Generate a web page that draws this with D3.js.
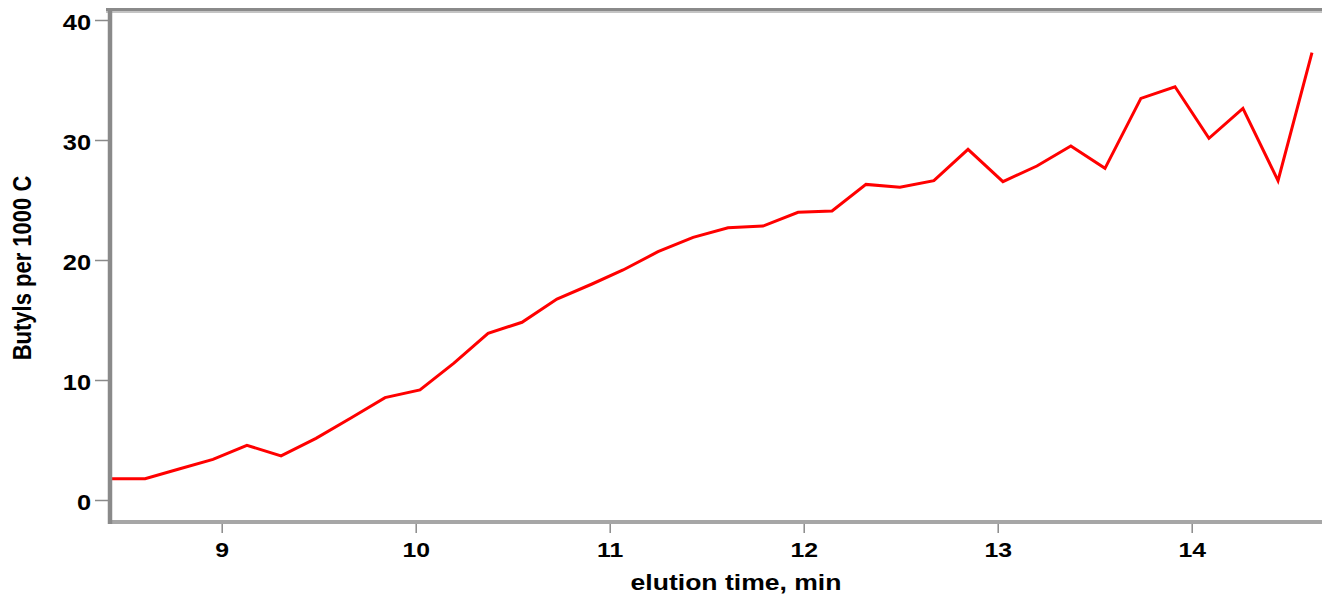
<!DOCTYPE html>
<html>
<head>
<meta charset="utf-8">
<script src="https://cdn.jsdelivr.net/npm/d3@7"></script>
<style>
  html, body { margin: 0; padding: 0; background: #fff; }
  svg { display: block; }
  text { font-family: "Liberation Sans", Arial, sans-serif; font-weight: bold; fill: #000; }
</style>
</head>
<body>
<svg id="chart" width="1322" height="596"></svg>
<script>
// Data
const elutionTime = [8.424, 8.605, 8.780, 8.955, 9.130, 9.306, 9.486, 9.666, 9.842, 10.022,
  10.197, 10.373, 10.548, 10.728, 10.909, 11.069, 11.249, 11.430, 11.610, 11.790,
  11.971, 12.146, 12.321, 12.496, 12.671, 12.847, 13.027, 13.202, 13.377, 13.553,
  13.738, 13.914, 14.089, 14.264, 14.445, 14.620];
const butyls = [1.78, 1.78, 2.58, 3.39, 4.56, 3.67, 5.14, 6.83, 8.53, 9.17,
  11.4, 13.89, 14.81, 16.75, 18.0, 19.17, 20.69, 21.89, 22.69, 22.83,
  23.97, 24.08, 26.3, 26.06, 26.61, 29.22, 26.53, 27.83, 29.5, 27.64,
  33.47, 34.44, 30.14, 32.64, 26.61, 37.28];
const xTicks = [9, 10, 11, 12, 13, 14];
const yTicks = [0, 10, 20, 30, 40];
const xTitle = "elution time, min";
const yTitle = "Butyls per 1000 C";

const svg = d3.select("#chart");
const stretch = 1.18;

const x = d3.scaleLinear().domain([9, 14]).range([221.7, 1191.7]);
const y = d3.scaleLinear().domain([0, 40]).range([500, 20]);

const pLeft = 110, pRight = 1322, pTop = 10, pBottom = 522;

// clip for the line
svg.append("clipPath").attr("id", "clip")
  .append("rect").attr("x", pLeft).attr("y", pTop).attr("width", pRight - pLeft).attr("height", pBottom - pTop);

// data line
const line = d3.line().x((d, i) => x(elutionTime[i])).y(d => y(d));
svg.append("path")
  .datum(butyls)
  .attr("clip-path", "url(#clip)")
  .attr("d", line)
  .attr("fill", "none")
  .attr("stroke", "#ff0000")
  .attr("stroke-width", 3)
  .attr("stroke-linejoin", "miter");

// frame lines
svg.append("line").attr("x1", 106).attr("x2", pRight).attr("y1", 9.5).attr("y2", 9.5)
  .attr("stroke", "#8a8a8a").attr("stroke-width", 3);
svg.append("line").attr("x1", 106).attr("x2", pRight).attr("y1", 12).attr("y2", 12)
  .attr("stroke", "#b0b0b0").attr("stroke-width", 1.5);
svg.append("line").attr("x1", 108).attr("x2", pRight).attr("y1", 522).attr("y2", 522)
  .attr("stroke", "#a6a6a6").attr("stroke-width", 4);
svg.append("line").attr("x1", 110).attr("x2", 110).attr("y1", 8).attr("y2", 524)
  .attr("stroke", "#8a8a8a").attr("stroke-width", 4.5);

// y axis
const yAxis = svg.append("g").attr("transform", "translate(108,0)")
  .call(d3.axisLeft(y).tickValues(yTicks).tickSize(13).tickFormat(d3.format("d")));
yAxis.select(".domain").remove();
yAxis.selectAll(".tick line").attr("stroke", "#8a8a8a").attr("stroke-width", 1.5);
yAxis.selectAll(".tick text")
  .attr("font-size", 21.5).attr("font-family", null).attr("fill", "#000")
  .attr("x", -17 / stretch).attr("dy", "0.45em")
  .attr("transform", `scale(${stretch},1)`);

// x axis
const xAxis = svg.append("g").attr("transform", "translate(0,524)")
  .call(d3.axisBottom(x).tickValues(xTicks).tickSize(9).tickFormat(d3.format("d")));
xAxis.select(".domain").remove();
xAxis.selectAll(".tick line").attr("stroke", "#8a8a8a").attr("stroke-width", 1.5);
xAxis.selectAll(".tick text")
  .attr("font-size", 21).attr("font-family", null).attr("fill", "#000")
  .attr("y", 33).attr("dy", 0).attr("x", 0)
  .attr("transform", `scale(${stretch},1)`);

// axis titles
svg.append("text")
  .attr("transform", `translate(736,590) scale(${stretch},1)`)
  .attr("text-anchor", "middle")
  .attr("font-size", 22.5)
  .text(xTitle);

svg.append("text")
  .attr("transform", `translate(31,268) scale(${stretch},1) rotate(-90)`)
  .attr("text-anchor", "middle")
  .attr("font-size", 22)
  .text(yTitle);
</script>
</body>
</html>
